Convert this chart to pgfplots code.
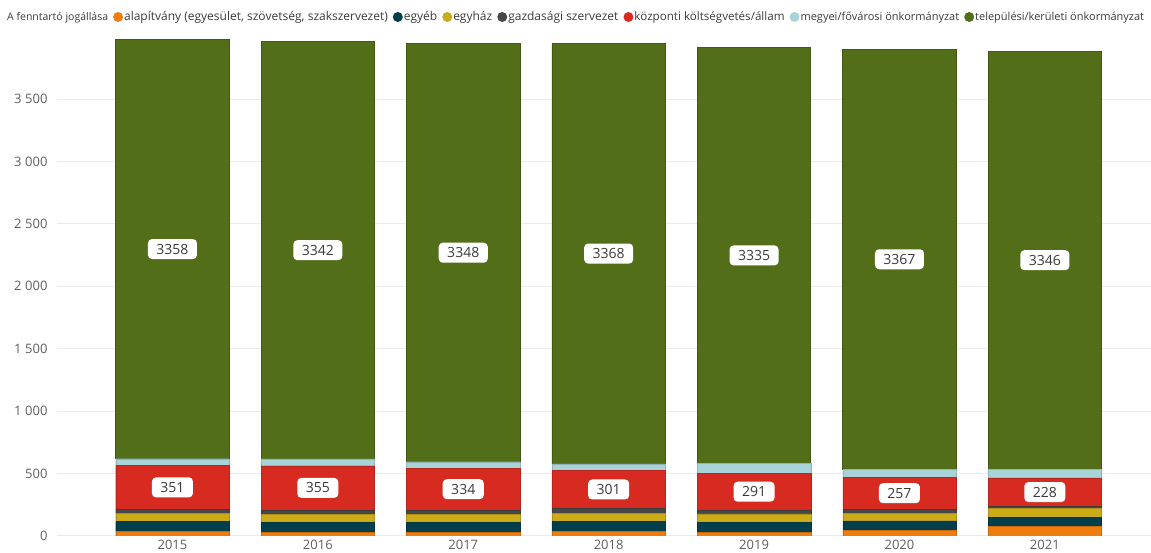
\documentclass[border=0pt]{standalone}
\usepackage{pgfplots}
\pgfplotsset{compat=1.18}
\usepackage{pgfplotstable}
\usepackage{fontspec}
\setmainfont{Open Sans}
\definecolor{cAlap}{HTML}{EE7D0D}
\definecolor{cEgyeb}{HTML}{023F4B}
\definecolor{cEgyhaz}{HTML}{CDAA18}
\definecolor{cGazd}{HTML}{474747}
\definecolor{cKozp}{HTML}{D72B21}
\definecolor{cMegyei}{HTML}{A8D3D9}
\definecolor{cTelep}{HTML}{526E19}
\definecolor{cText}{HTML}{605E5C}
\definecolor{cDark}{HTML}{3A3A3A}
\definecolor{cGrid}{HTML}{EBEBEB}
\pgfplotstableread{
x alap egyeb egyhaz gazd kozp megyei telep
0 35 80 67 32 351 54 3358
1 27 80 69 32 355 55 3342
2 30 82 62 34 334 53 3348
3 35 80 67 40 301 55 3368
4 30 80 67 32 291 80 3335
5 45 77 62 30 257 62 3367
6 75 77 67 19 228 70 3346
}\data
\pgfplotsset{
  barlabel/.style={
    nodes near coords,
    point meta=explicit symbolic,
    every node near coord/.append style={
      anchor=center,
      fill=white, rounded corners=4pt, text=cDark,
      font=\fontsize{14}{15}\selectfont,
      inner xsep=8.5pt, inner ysep=5pt, text height=10pt, text depth=0pt}
  }
}
\begin{document}
\begin{tikzpicture}
\path[use as bounding box] (-57pt,-17pt) rectangle (1094pt,536pt);
\begin{axis}[
  at={(0pt,0pt)}, anchor=south west,
  scale only axis, width=1094pt, height=499.4pt,
  ybar stacked, bar width=0.78,
  xmin=-0.794, xmax=6.73, ymin=0, ymax=4000,
  xtick=data, xticklabels={2015,2016,2017,2018,2019,2020,2021},
  ytick={0,500,...,3500},
  axis line style={draw=none},
  major tick length=0pt,
  ymajorgrids, grid style={cGrid, line width=1pt},
  /pgf/number format/.cd, 1000 sep={\hspace{3.5pt}}, assume math mode=true, /pgfplots/.cd,
  yticklabel style={font=\fontsize{13}{15}\selectfont, text=cText, xshift=-6pt},
  xticklabel style={font=\fontsize{13}{15}\selectfont, text=cText, yshift=-1pt},
  legend columns=-1,
  legend style={at={(axis description cs:0,1)}, anchor=west, xshift=-51pt, yshift=19.6pt,
    draw=none, fill=none, font=\fontsize{12}{13}\selectfont, text=cDark,
    inner sep=0pt, nodes={inner sep=1pt},
    /tikz/every even column/.append style={column sep=4pt}},
  legend image code/.code={\fill[#1,draw=none] (5pt,0pt) circle (5pt);},
]
\addlegendimage{empty legend}
\addlegendentry{\fontsize{10.5}{12}\selectfont A fenntartó jogállása\hspace{8pt}}
\addplot[fill=cAlap, draw=cAlap!85!black, line width=0.4pt] table[x=x,y=alap]{\data};
\addlegendentry{alapítvány (egyesület, szövetség, szakszervezet)}
\addplot[fill=cEgyeb, draw=cEgyeb!85!black, line width=0.4pt] table[x=x,y=egyeb]{\data};
\addlegendentry{egyéb}
\addplot[fill=cEgyhaz, draw=cEgyhaz!85!black, line width=0.4pt] table[x=x,y=egyhaz]{\data};
\addlegendentry{egyház}
\addplot[fill=cGazd, draw=cGazd!85!black, line width=0.4pt] table[x=x,y=gazd]{\data};
\addlegendentry{gazdasági szervezet}
\addplot[fill=cKozp, draw=cKozp!85!black, line width=0.4pt, barlabel] table[x=x,y=kozp,meta=kozp]{\data};
\addlegendentry{\fontsize{11.6}{13}\selectfont központi költségvetés/állam}
\addplot[fill=cMegyei, draw=cMegyei!85!black, line width=0.4pt] table[x=x,y=megyei]{\data};
\addlegendentry{\fontsize{11}{13}\selectfont megyei/fővárosi önkormányzat}
\addplot[fill=cTelep, draw=cTelep!80!black, line width=0.6pt, barlabel] table[x=x,y=telep,meta=telep]{\data};
\addlegendentry{\fontsize{11}{13}\selectfont települési/kerületi önkormányzat}
\end{axis}
\end{tikzpicture}
\end{document}
